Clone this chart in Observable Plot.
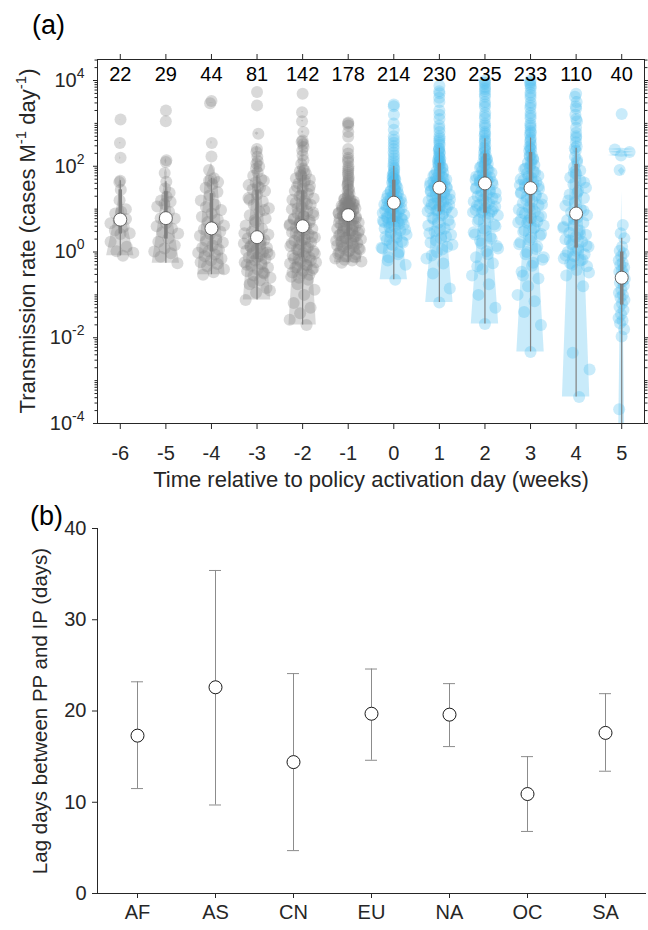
<!DOCTYPE html>
<html>
<head>
<meta charset="utf-8">
<script src="https://cdn.jsdelivr.net/npm/d3@7"></script>
<script src="https://cdn.jsdelivr.net/npm/@observablehq/plot@0.6"></script>
<style>
  html, body { margin: 0; padding: 0; background: #fff; }
  #wrap { position: relative; width: 648px; height: 930px; font-family: "Liberation Sans", Arial, Helvetica, sans-serif; color: #262626; overflow: hidden; }
  #wrap svg { position: absolute; left: 0; }
  .plab { position: absolute; font-size: 27px; line-height: 1; color: #000; }
</style>
</head>
<body>
<div id="wrap">
  <div class="plab" style="left:32px;top:12px;">(a)</div>
  <div class="plab" style="left:30px;top:503px;">(b)</div>
</div>
<script>
// ---------------- Panel (a) data ----------------
const weeks = [-6, -5, -4, -3, -2, -1, 0, 1, 2, 3, 4, 5];
const counts = [22, 29, 44, 81, 142, 178, 214, 230, 235, 233, 110, 40];

// log10 of transmission rate (cases M^-1 day^-1)
const log10Rate_wkM6 = [3.09, 2.54, 2.2, 1.66, 1.63, 1.45, 1.21, 1.0, 0.94, 0.9, 0.77, 0.74, 0.67, 0.59, 0.5, 0.44, 0.42, 0.24, 0.12, 0.02, -0.02, -0.09];
const log10Rate_wkM5 = [3.30, 3.05, 2.14, 2.10, 1.84, 1.64, 1.48, 1.38, 1.29, 1.2, 1.17, 1.12, 1.06, 0.94, 0.79, 0.78, 0.67, 0.6, 0.55, 0.46, 0.43, 0.32, 0.24, 0.16, 0.08, 0.01, -0.03, -0.11, -0.26];
const log10Rate_wkM4 = [3.52, 3.47, 2.54, 2.23, 1.91, 1.72, 1.66, 1.63, 1.58, 1.5, 1.4, 1.32, 1.2, 1.1, 1.05, 0.98, 0.9, 0.82, 0.76, 0.7, 0.62, 0.57, 0.53, 0.48, 0.42, 0.38, 0.3, 0.26, 0.22, 0.15, 0.1, 0.05, 0.02, -0.02, -0.06, -0.1, -0.15, -0.2, -0.24, -0.28, -0.33, -0.4, -0.47, -0.53];
const log10Rate_wkM3 = [3.73, 3.42, 2.76, 2.4, 2.33, 2.12, 2.06, 2.0, 1.86, 1.78, 1.7, 1.62, 1.56, 1.5, 1.46, 1.42, 1.34, 1.26, 1.18, 1.1, 1.02, 0.94, 0.86, 0.78, 0.7, 0.62, 0.54, 0.47, 0.41, 0.37, 0.32, 0.28, 0.24, 0.2, 0.17, 0.14, 0.1, 0.07, 0.03, 0.0, -0.03, -0.06, -0.1, -0.13, -0.16, -0.2, -0.24, -0.28, -0.32, -0.36, -0.4, -0.45, -0.5, -0.55, -0.6, -0.66, -0.75, -0.84, -0.95, -1.12,
  2.22, 1.95, 1.66, 1.52, 1.22, 0.98, 0.74, 0.44, 0.26, 0.12, -0.01, -0.12, -0.3, -0.48, -0.7, -0.9];
const log10Rate_wkM2 = [3.69, 3.26, 2.8, 2.6, 2.57, 2.52, 2.37, 2.14, 1.95, 1.88, 1.82, 1.77, 1.72, 1.66, 1.6, 1.54, 1.48, 1.42, 1.36, 1.3, 1.25, 1.2, 1.15, 1.1, 1.05, 1.0, 0.95, 0.9, 0.86, 0.82, 0.78, 0.74, 0.7, 0.64, 0.6, 0.57, 0.54, 0.5, 0.46, 0.42, 0.38, 0.34, 0.3, 0.26, 0.22, 0.18, 0.14, 0.1, 0.06, 0.02, -0.03, -0.08, -0.13, -0.18, -0.24, -0.3, -0.36, -0.42, -0.5, -0.58, -0.65, -0.75, -0.88, -1.0, -1.19, -1.3, -1.43, -1.58, -1.7,
  3.05, 2.45, 2.25, 2.05, 1.9, 1.79, 1.69, 1.62, 1.52, 1.45, 1.33, 1.22, 1.12, 1.02, 0.92, 0.84, 0.76, 0.69, 0.66, 0.62,
  0.52, 0.44, 0.36, 0.28, 0.2, 0.12, 0.04, -0.04, -0.1, -0.15, -0.2, -0.23, -0.27, -0.31, -0.35, -0.38, -0.44, -0.48, -0.53, -0.6];
const log10Rate_wkM1 = [3.02, 3.0, 2.95, 2.69, 2.3, 2.2, 2.1, 2.0, 1.9, 1.8, 1.7, 1.62, 1.55, 1.48, 1.42, 1.36, 1.3, 1.24, 1.22, 1.2, 1.18, 1.16, 1.14, 1.12, 1.1, 1.08, 1.06, 1.04, 1.02, 1.0, 0.98, 0.96, 0.93, 0.9, 0.87, 0.85, 0.82, 0.8, 0.78, 0.75, 0.72, 0.69, 0.66, 0.63, 0.6, 0.57, 0.54, 0.51, 0.48, 0.45, 0.42, 0.39, 0.36, 0.33, 0.3, 0.27, 0.24, 0.21, 0.18, 0.15, 0.12, 0.09, 0.06, 0.03, 0.0, -0.05, -0.1, -0.15, -0.2, -0.25,
  2.8, 2.4, 2.15, 1.95, 1.85, 1.75, 1.66, 1.58, 1.45, 1.33, 1.23, 1.19, 1.15, 1.11, 1.07, 1.03, 0.99, 0.95, 0.91, 0.88,
  0.84, 0.79, 0.74, 0.68, 0.62, 0.56, 0.5, 0.44, 0.4, 0.37, 0.32, 0.26, 0.2, 0.14, 0.08, 0.02, -0.04, -0.12, -0.18, -0.22];
const log10Rate_wk0 = [3.44, 3.4, 3.2, 2.85, 2.7, 2.55, 2.4, 2.25, 2.12, 2.0, 1.92, 1.86, 1.8, 1.76, 1.72, 1.69, 1.66, 1.62, 1.58, 1.54, 1.5, 1.46, 1.43, 1.4, 1.36, 1.33, 1.3, 1.27, 1.24, 1.21, 1.18, 1.16, 1.14, 1.11, 1.08, 1.05, 1.02, 0.99, 0.96, 0.93, 0.9, 0.87, 0.84, 0.81, 0.78, 0.75, 0.73, 0.71, 0.68, 0.64, 0.6, 0.55, 0.5, 0.45, 0.4, 0.34, 0.28, 0.22, 0.15, 0.08, 0.0, -0.12, -0.3, -0.65,
  3.0, 2.62, 2.47, 2.32, 2.18, 2.06, 1.96, 1.83, 1.74, 1.7, 1.64, 1.56, 1.48, 1.41, 1.35, 1.29, 1.25, 1.2, 1.17, 1.16,
  1.12, 1.06, 1.0, 0.97, 0.91, 0.85, 0.8, 0.76, 0.72, 0.7, 0.66, 0.58, 0.52, 0.42, 0.36, 0.25, 0.18, 0.1, -0.05, -0.2];
const log10Rate_wk1 = [3.88, 3.75, 3.7, 3.5, 3.3, 3.1, 2.95, 2.8, 2.7, 2.6, 2.5, 2.42, 2.36, 2.3, 2.24, 2.18, 2.13, 2.09, 2.05, 2.01, 1.97, 1.93, 1.89, 1.85, 1.81, 1.78, 1.75, 1.72, 1.69, 1.66, 1.63, 1.6, 1.57, 1.55, 1.53, 1.51, 1.49, 1.46, 1.43, 1.4, 1.37, 1.34, 1.31, 1.28, 1.25, 1.22, 1.19, 1.16, 1.13, 1.1, 1.06, 1.02, 0.99, 0.96, 0.92, 0.86, 0.8, 0.74, 0.68, 0.62, 0.55, 0.48, 0.4, 0.32, 0.22, 0.12, 0.0, -0.15, -0.27, -0.5, -0.85, -1.18,
  3.6, 3.2, 2.88, 2.65, 2.55, 2.4, 2.33, 2.21, 2.15, 2.11, 2.03, 1.95, 1.87, 1.8, 1.73, 1.67, 1.62, 1.58, 1.54, 1.52,
  1.47, 1.41, 1.35, 1.29, 1.23, 1.17, 1.11, 1.04, 0.98, 0.95, 0.89, 0.77, 0.65, 0.52, 0.44, 0.36, 0.27, 0.17, 0.06, -0.08];
const log10Rate_wk2 = [4.0, 3.92, 3.85, 3.75, 3.62, 3.5, 3.38, 3.25, 3.12, 3.0, 2.9, 2.8, 2.72, 2.64, 2.56, 2.48, 2.4, 2.32, 2.25, 2.21, 2.17, 2.13, 2.09, 2.05, 2.01, 1.97, 1.93, 1.89, 1.85, 1.81, 1.77, 1.74, 1.71, 1.68, 1.65, 1.62, 1.58, 1.54, 1.5, 1.46, 1.42, 1.38, 1.34, 1.3, 1.26, 1.22, 1.18, 1.14, 1.1, 1.06, 1.02, 0.98, 0.95, 0.92, 0.86, 0.8, 0.72, 0.64, 0.55, 0.46, 0.36, 0.26, 0.14, 0.02, -0.12, -0.26, -0.4, -0.55, -0.75, -1.0, -1.3, -1.68,
  3.95, 3.8, 3.68, 3.44, 3.18, 2.95, 2.76, 2.6, 2.44, 2.36, 2.23, 2.15, 2.07, 1.99, 1.91, 1.83, 1.76, 1.69, 1.66, 1.63,
  1.56, 1.48, 1.4, 1.32, 1.24, 1.16, 1.08, 1.0, 0.96, 0.93, 0.89, 0.76, 0.6, 0.5, 0.41, 0.31, 0.2, 0.08, -0.05, -0.33];
const log10Rate_wk3 = [4.0, 3.92, 3.82, 3.72, 3.6, 3.48, 3.36, 3.24, 3.12, 3.0, 2.9, 2.82, 2.74, 2.66, 2.58, 2.5, 2.42, 2.36, 2.28, 2.23, 2.18, 2.13, 2.08, 2.03, 1.98, 1.93, 1.88, 1.83, 1.78, 1.73, 1.68, 1.64, 1.6, 1.56, 1.53, 1.51, 1.47, 1.43, 1.39, 1.34, 1.29, 1.24, 1.19, 1.14, 1.09, 1.04, 0.99, 0.94, 0.89, 0.84, 0.79, 0.75, 0.71, 0.68, 0.62, 0.55, 0.47, 0.38, 0.28, 0.18, 0.07, -0.05, -0.18, -0.32, -0.46, -0.62, -0.8, -1.0, -1.15, -1.4, -1.7, -2.33,
  3.96, 3.87, 3.66, 3.42, 3.18, 2.95, 2.78, 2.62, 2.46, 2.39, 2.25, 2.15, 2.05, 1.95, 1.86, 1.76, 1.7, 1.62, 1.58, 1.54,
  1.45, 1.37, 1.31, 1.21, 1.11, 1.01, 0.92, 0.82, 0.73, 0.69, 0.58, 0.5, 0.42, 0.33, 0.23, 0.12, 0.0, -0.12, -0.25, -0.55];
const log10Rate_wk4 = [3.69, 3.62, 3.5, 3.35, 3.2, 3.05, 2.9, 2.78, 2.66, 2.56, 2.46, 2.36, 2.22, 2.1, 1.98, 1.9, 1.82, 1.74, 1.66, 1.58, 1.5, 1.42, 1.34, 1.26, 1.16, 1.08, 1.0, 0.93, 0.86, 0.8, 0.74, 0.68, 0.62, 0.56, 0.5, 0.45, 0.4, 0.35, 0.3, 0.24, 0.18, 0.12, 0.06, 0.0, -0.05, -0.1, -0.15, -0.2, -0.26, -0.33, -0.42, -0.55, -0.8, -2.35, -2.74, -3.38,
  3.4, 3.1, 2.7, 2.42, 2.15, 1.86, 1.62, 1.38, 1.2, 0.96, 0.77, 0.59, 0.42, 0.27, 0.15, 0.03, -0.08, -0.18, -0.3, -0.48];
const log10Rate_wk5 = [3.22, 2.39, 2.33, 2.25, 1.91, 0.63, 0.44, 0.32, 0.12, 0.03, -0.03, -0.1, -0.19, -0.25, -0.3, -0.36, -0.42, -0.46, -0.5, -0.57, -0.63, -0.69, -0.72, -0.78, -0.88, -0.95, -1.0, -1.06, -1.12, -1.2, -1.28, -1.35, -1.45, -1.54, -1.6, -1.66, -1.8, -1.97, -3.67, -4.6];

const groupLogs = [log10Rate_wkM6, log10Rate_wkM5, log10Rate_wkM4, log10Rate_wkM3, log10Rate_wkM2, log10Rate_wkM1,
                   log10Rate_wk0, log10Rate_wk1, log10Rate_wk2, log10Rate_wk3, log10Rate_wk4, log10Rate_wk5];

// ---------------- Panel (b) data ----------------
const regions = ["AF", "AS", "CN", "EU", "NA", "OC", "SA"];
const lagMean = [17.3, 22.6, 14.4, 19.7, 19.6, 10.9, 17.6];
const lagLow  = [11.5, 9.7, 4.7, 14.6, 16.1, 6.8, 13.4];
const lagHigh = [23.2, 35.4, 24.1, 24.6, 23.0, 15.0, 21.9];

// ---------------- helpers ----------------
const FONT = '"Liberation Sans", Arial, Helvetica, sans-serif';
const INK = "#262626";
const GREY = "#808080";
const BLUE = "#4dbeee";

function quantileM(s, p) { // MATLAB-style quantile on a sorted array
  const n = s.length, pos = n * p + 0.5;
  if (pos <= 1) return s[0];
  if (pos >= n) return s[n - 1];
  const i = Math.floor(pos), f = pos - i;
  return s[i - 1] + f * (s[i] - s[i - 1]);
}
function interp(xs, ys, x) {
  if (x <= xs[0]) return ys[0];
  for (let k = 0; k < xs.length - 1; k++) {
    if (x <= xs[k + 1]) {
      const dx = xs[k + 1] - xs[k];
      const t = dx > 0 ? (x - xs[k]) / dx : 0;
      return ys[k] + t * (ys[k + 1] - ys[k]);
    }
  }
  return ys[ys.length - 1];
}

const violinRows = [], pointRows = [], statRows = [];
const HALF = 0.3; // violin half-width in week units

weeks.forEach((wk, gi) => {
  const vals = groupLogs[gi].map(l => Math.pow(10, l));
  const s = vals.slice().sort((a, b) => a - b);
  const n = s.length, vmin = s[0], vmax = s[n - 1];
  const med = d3.median(vals);
  const mad = d3.median(vals.map(v => Math.abs(v - med)));
  let sig = mad / 0.6745; if (!(sig > 0)) sig = (vmax - vmin) / 4;
  const m = 100;
  let u = sig * Math.pow(4 / (3 * n), 0.2);
  u = Math.max(u, 0.15 * (vmax - vmin) / (m - 1));
  const lo = vmin - 3 * u, hi = vmax + 3 * u;
  const grid = d3.range(m).map(i => lo + i * (hi - lo) / (m - 1));
  const logd = grid.map(x => {
    const e = vals.map(v => -0.5 * ((x - v) / u) ** 2);
    const mx = d3.max(e);
    return mx + Math.log(d3.sum(e, z => Math.exp(z - mx)));
  });
  const keep = d3.range(m).filter(i => grid[i] >= vmin && grid[i] <= vmax);
  const value = keep.map(i => grid[i]);
  const ld = keep.map(i => logd[i]);
  value[0] = vmin; value[value.length - 1] = vmax;
  const mxl = d3.max(ld);
  const hw = ld.map(l => HALF * Math.exp(l - mxl));
  value.forEach((v, k) => violinRows.push({week: wk, v, xl: wk - hw[k], xr: wk + hw[k]}));

  groupLogs[gi].forEach((l, i) => {
    const v = Math.pow(10, l);
    const strength = interp(value, hw, v);
    const j = 2 * (((i + 1) * 0.6180339887498949) % 1) - 1;
    pointRows.push({week: wk, v, x: wk + j * strength});
  });

  const q1 = quantileM(s, 0.25), q2 = quantileM(s, 0.5), q3 = quantileM(s, 0.75);
  const iqr = q3 - q1;
  let loW = q1 - 1.5 * iqr; loW = Math.max(loW, d3.min(s.filter(v => v > loW)));
  let hiW = q3 + 1.5 * iqr; hiW = Math.min(hiW, d3.max(s.filter(v => v < hiW)));
  statRows.push({week: wk, q1, med: q2, q3, loW, hiW});
});

const isGrey = d => d.week < 0;
const yTop = Math.pow(10, 4.49);
const majorTicks = [1e-4, 1e-2, 1, 1e2, 1e4];
const minorTicks = [];
for (let k = -4; k <= 4; k++) for (let mm = 1; mm <= 9; mm++) {
  if (mm === 1 && k % 2 === 0) continue;
  const t = mm * Math.pow(10, k);
  if (t <= yTop) minorTicks.push(t);
}

const plotA = Plot.plot({
  width: 648, height: 500,
  marginTop: 59, marginBottom: 77, marginLeft: 97, marginRight: 4,
  style: {fontFamily: FONT, fontSize: "20px", color: INK, background: "transparent", overflow: "visible"},
  x: {domain: [-6.5, 5.5]},
  y: {type: "log", domain: [1e-4, yTop]},
  marks: [
    Plot.areaX(violinRows.filter(isGrey), {y: "v", x1: "xl", x2: "xr", z: "week", fill: GREY, fillOpacity: 0.3, curve: "linear", clip: true}),
    Plot.areaX(violinRows.filter(d => !isGrey(d)), {y: "v", x1: "xl", x2: "xr", z: "week", fill: BLUE, fillOpacity: 0.3, curve: "linear", clip: true}),
    Plot.dot(pointRows.filter(isGrey), {x: "x", y: "v", r: 6, fill: GREY, fillOpacity: 0.3, stroke: "none", clip: true}),
    Plot.dot(pointRows.filter(d => !isGrey(d)), {x: "x", y: "v", r: 6, fill: BLUE, fillOpacity: 0.3, stroke: "none", clip: true}),
    Plot.ruleX(statRows, {x: "week", y1: "loW", y2: "hiW", stroke: "#808080", strokeWidth: 1.2, clip: true}),
    Plot.ruleX(statRows, {x: "week", y1: "q1", y2: "q3", stroke: "#808080", strokeWidth: 3.5, clip: true}),
    Plot.dot(statRows, {x: "week", y: "med", r: 6.5, fill: "white", stroke: "#595959", strokeWidth: 0.9}),
    Plot.text(weeks, {x: d => d, text: (d, i) => String(counts[i]), frameAnchor: "top", lineAnchor: "middle", dy: 15, fontSize: 20, fill: "#000"}),
    Plot.frame({stroke: INK}),
    Plot.axisX({anchor: "bottom", ticks: weeks, tickSize: 6, tickPadding: 16, tickFormat: d => String(d), label: null, fontSize: 20}),
    Plot.axisX({anchor: "top", ticks: weeks, tickSize: 6, tickFormat: () => "", label: null}),
    Plot.axisY({anchor: "left", ticks: minorTicks, tickSize: 2.5, tickFormat: () => "", label: null}),
    Plot.axisY({anchor: "left", ticks: majorTicks, tickSize: 4, tickPadding: 9, tickFormat: d => "10^" + Math.round(Math.log10(d)), label: null, fontSize: 20}),
    Plot.axisY({anchor: "right", ticks: minorTicks, tickSize: 2.5, tickFormat: () => "", label: null}),
    Plot.axisY({anchor: "right", ticks: majorTicks, tickSize: 4, tickFormat: () => "", label: null}),
    Plot.text(["Time relative to policy activation day (weeks)"], {frameAnchor: "bottom", lineAnchor: "middle", dy: 56, fontSize: 22, fill: INK})
  ]
});

// superscript exponents in the log tick labels
d3.select(plotA).selectAll('g[aria-label="y-axis tick label"] text').each(function () {
  const mt = (this.textContent || "").match(/^10\^(-?\d+)$/);
  if (!mt) return;
  const sel = d3.select(this);
  sel.text("");
  sel.append("tspan").text("10");
  sel.append("tspan").attr("dy", -9).attr("font-size", 14).text(mt[1]);
});

// y label with superscripts
{
  const t = d3.select(plotA).append("text")
    .attr("transform", "translate(27,241) rotate(-90)")
    .attr("text-anchor", "middle")
    .attr("font-family", FONT).attr("font-size", 22).attr("fill", INK);
  t.append("tspan").attr("dy", "0.35em").text("Transmission rate (cases M");
  t.append("tspan").attr("dy", -9).attr("font-size", 15).text("-1");
  t.append("tspan").attr("dy", 9).text(" day");
  t.append("tspan").attr("dy", -9).attr("font-size", 15).text("-1");
  t.append("tspan").attr("dy", 9).text(")");
}

// ---------------- Panel (b) ----------------
const lagRows = regions.map((r, i) => ({region: r, mean: lagMean[i], lo: lagLow[i], hi: lagHigh[i]}));

const plotB = Plot.plot({
  width: 648, height: 430,
  marginTop: 28, marginBottom: 37, marginLeft: 97, marginRight: 3,
  style: {fontFamily: FONT, fontSize: "20px", color: INK, background: "transparent", overflow: "visible"},
  x: {type: "point", domain: regions, padding: 0.5},
  y: {domain: [0, 40]},
  marks: [
    Plot.frame({anchor: "left", stroke: INK}),
    Plot.frame({anchor: "bottom", stroke: INK}),
    Plot.axisX({tickSize: 5, tickPadding: 6, fontSize: 20, label: null}),
    Plot.axisY({ticks: [0, 10, 20, 30, 40], tickSize: 5, tickPadding: 6, fontSize: 20, label: null}),
    Plot.ruleX(lagRows, {x: "region", y1: "lo", y2: "hi", stroke: "#8c8c8c", strokeWidth: 1}),
    Plot.ruleY(lagRows, {y: "lo", x1: "region", x2: "region", stroke: "#8c8c8c", strokeWidth: 1, insetLeft: -6, insetRight: -6}),
    Plot.ruleY(lagRows, {y: "hi", x1: "region", x2: "region", stroke: "#8c8c8c", strokeWidth: 1, insetLeft: -6, insetRight: -6}),
    Plot.dot(lagRows, {x: "region", y: "mean", r: 6.5, fill: "white", stroke: "#1a1a1a", strokeWidth: 1}),
    Plot.text(["Lag days between PP and IP (days)"], {frameAnchor: "left", textAnchor: "middle", lineAnchor: "middle", dx: -57, rotate: -90, fontSize: 20.5, fill: INK})
  ]
});

const wrap = document.getElementById("wrap");
plotA.style.top = "0px";
plotB.style.top = "500px";
wrap.insertBefore(plotB, wrap.firstChild);
wrap.insertBefore(plotA, wrap.firstChild);
</script>
</body>
</html>
